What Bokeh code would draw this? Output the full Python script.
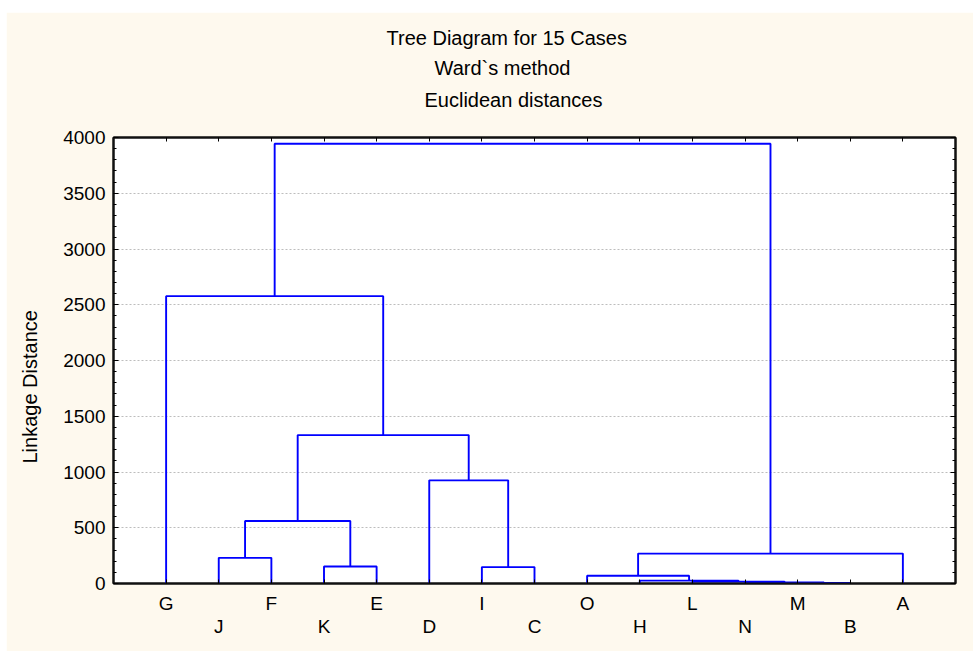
from bokeh.plotting import figure
from bokeh.models import LinearAxis, FixedTicker, SingleIntervalTicker, Range1d, Title, Spacer
from bokeh.layouts import column, row
from bokeh.embed import file_html
from bokeh.resources import INLINE

# ---------------- data ----------------
leaves = ["G", "J", "F", "K", "E", "D", "I", "C", "O", "H", "L", "N", "M", "B", "A"]
# merges in order; ids 0-14 are leaves, merge k creates cluster id 15+k
merge_left = [12, 11, 10, 9, 8, 6, 3, 1, 19, 22, 5, 24, 0, 27]
merge_right = [13, 15, 16, 17, 18, 7, 4, 2, 14, 21, 20, 25, 26, 23]
merge_height = [5, 10, 17, 26, 69, 147, 152, 230, 268, 561, 925, 1331, 2577, 3944]
y_ticks = [0, 500, 1000, 1500, 2000, 2500, 3000, 3500, 4000]
titles = ["Tree Diagram for 15 Cases", "Ward`s method", "Euclidean distances"]
y_label = "Linkage Distance"

# ---------------- layout / style ----------------
OX, OY = 6, 12                # white strip left / top of the graph window
W, H = 973 - OX, 651 - OY
BL, BR, BT, BB = 113 - OX, 18, 137 - OY, 68
FONT = "Liberation Sans"
CREAM = "#FEF9EE"
BLUE = "#0000FF"
DARK = "#111111"

n = len(leaves)
p = figure(width=W, height=H, output_backend="svg", toolbar_location=None,
           x_range=Range1d(0, n + 1), y_range=Range1d(0, 4000),
           min_border_left=BL, min_border_right=BR, min_border_top=BT, min_border_bottom=BB,
           border_fill_color=CREAM, background_fill_color="white",
           outline_line_color=DARK, outline_line_width=2)

# dendrogram geometry derived from merge table
pos = {i: i + 1.0 for i in range(n)}
hgt = {i: 0.0 for i in range(n)}
xs, ys = [], []
for k, (a, b, h) in enumerate(zip(merge_left, merge_right, merge_height)):
    xa, xb = pos[a], pos[b]
    xs.append([xa, xa, xb, xb])
    ys.append([hgt[a], h, h, hgt[b]])
    pos[n + k] = (xa + xb) / 2.0
    hgt[n + k] = h
p.multi_line(xs, ys, line_color=BLUE, line_width=1.9)

# grid
p.xgrid.visible = False
p.ygrid.ticker = FixedTicker(ticks=y_ticks)
p.ygrid.grid_line_color = "#BDBDBD"
p.ygrid.grid_line_dash = "2 2"
p.ygrid.grid_line_width = 1

def hidden_labels(ax, standoff=0):
    ax.major_label_text_color = None
    ax.major_label_text_font_size = "1px"
    ax.major_label_standoff = standoff

def spacer_axis(size):
    # invisible axis used only to reserve space in a side panel
    ax = LinearAxis(ticker=FixedTicker(ticks=[0]), axis_line_color=None,
                    major_tick_in=0, major_tick_out=size, major_tick_line_alpha=0,
                    minor_tick_line_color=None)
    hidden_labels(ax)
    return ax

# left axis
ya = p.yaxis[0]
ya.ticker = SingleIntervalTicker(interval=500, num_minor_ticks=5)
ya.major_tick_in = 5
ya.major_tick_out = 0
ya.minor_tick_in = 3
ya.minor_tick_out = 0
ya.axis_line_width = 2
ya.axis_line_color = DARK
ya.major_label_text_font = FONT
ya.major_label_text_font_size = "19px"
ya.major_label_text_color = "black"
ya.major_label_standoff = 8

# invisible spacer between tick labels and the y label
p.add_layout(spacer_axis(12), "left")

# y label as a side title (so it can be offset along the axis)
p.add_layout(Title(text=y_label, align="left", offset=120, standoff=16,
                   text_font=FONT, text_font_size="20px", text_font_style="normal",
                   text_color="black"), "left")

# right axis (ticks only)
ra = LinearAxis(ticker=SingleIntervalTicker(interval=500, num_minor_ticks=5),
                major_tick_in=5, major_tick_out=0, minor_tick_in=3, minor_tick_out=0,
                axis_line_width=2, axis_line_color=DARK)
hidden_labels(ra)
p.add_layout(ra, "right")

# bottom axis: ticks at every leaf
ticks = list(range(1, n + 1))
xa1 = p.xaxis[0]
xa1.ticker = FixedTicker(ticks=ticks)
xa1.major_tick_in = 4
xa1.major_tick_out = 0
xa1.minor_tick_line_color = None
xa1.axis_line_width = 2
xa1.axis_line_color = DARK
hidden_labels(xa1)

# two staggered rows of leaf labels
odd = [t for t in ticks if t % 2 == 1]
even = [t for t in ticks if t % 2 == 0]
for tk, so in ((odd, 3), (even, -7)):
    ax = LinearAxis(ticker=FixedTicker(ticks=tk),
                    major_label_overrides={t: leaves[t - 1] for t in tk},
                    major_tick_line_color=None, minor_tick_line_color=None,
                    axis_line_color=None, major_label_standoff=so,
                    major_label_text_font=FONT, major_label_text_font_size="19px",
                    major_label_text_color="black")
    p.add_layout(ax, "below")

# top axis (ticks only)
ta = LinearAxis(ticker=FixedTicker(ticks=ticks),
                major_tick_in=4, major_tick_out=0, minor_tick_line_color=None,
                axis_line_width=2, axis_line_color=DARK)
hidden_labels(ta)
p.add_layout(ta, "above")
p.add_layout(spacer_axis(21), "above")

# titles stacked above (added from the frame outward)
title_left_px = [386, 434, 424]
title_standoff = [8, 4, 12]
for t, lx, so in reversed(list(zip(titles, title_left_px, title_standoff))):
    p.add_layout(Title(text=t, align="left", offset=lx - 113, standoff=so,
                       text_font=FONT, text_font_size="20px", text_font_style="normal",
                       text_color="black"), "above")

layout = column(Spacer(height=OY, width=973),
                row(Spacer(width=OX, height=H), p, spacing=0), spacing=0)
open("out.html", "w").write(file_html(layout, INLINE))
